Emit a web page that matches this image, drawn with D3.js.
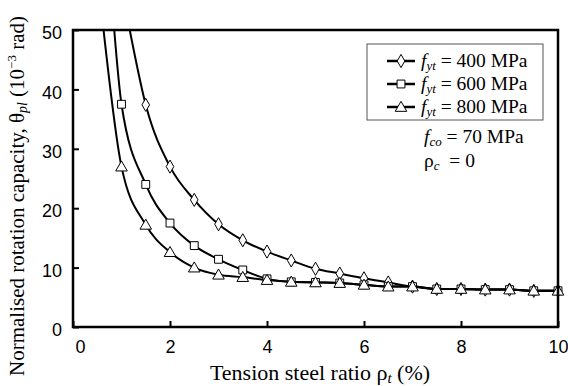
<!DOCTYPE html>
<html>
<head>
<meta charset="utf-8">
<script src="https://cdn.jsdelivr.net/npm/d3@7"></script>
<style>
  html, body { margin: 0; padding: 0; background: #fff; }
  svg { display: block; }
  .serif { font-family: "Liberation Serif", "Times New Roman", serif; }
  .sans { font-family: "Liberation Sans", Arial, sans-serif; }
</style>
</head>
<body>
<svg id="chart" width="568" height="386"></svg>
<script>
// Tension steel ratio (%) at each marker
const ratio = [1.0, 1.5, 2.0, 2.5, 3.0, 3.5, 4.0, 4.5, 5.0, 5.5, 6.0, 6.5, 7.0, 7.5, 8.0, 8.5, 9.0, 9.5, 10.0];

// Normalised rotation capacity (10^-3 rad); null where the value is off the top of the axis
const fyt400 = [null, 37.4, 27.0, 21.4, 17.3, 14.6, 12.7, 11.2, 9.8, 9.0, 8.2, 7.5, 6.8, 6.4, 6.4, 6.3, 6.3, 6.1, 6.1];
const fyt600 = [37.5, 24.0, 17.5, 13.7, 11.4, 9.6, 8.1, 7.6, 7.5, 7.4, 7.1, 6.8, 6.8, 6.4, 6.4, 6.3, 6.3, 6.1, 6.1];
const fyt800 = [27.0, 17.2, 12.6, 10.0, 8.8, 8.4, 7.9, 7.6, 7.5, 7.4, 7.1, 6.8, 6.8, 6.4, 6.4, 6.3, 6.3, 6.1, 6.1];

// Where each curve leaves the top of the plot (ratio at 50 x 10^-3 rad)
const topCrossing = { fyt400: 1.17, fyt600: 0.85, fyt800: 0.63 };

const seriesNames = ["fyt400", "fyt600", "fyt800"];
const seriesLabels = ["400 MPa", "600 MPa", "800 MPa"];
const seriesSymbols = ["diamond", "square", "triangle"];

const xTicks = [0, 2, 4, 6, 8, 10];
const yTicks = [0, 10, 20, 30, 40, 50];

const values = { fyt400, fyt600, fyt800 };

const svg = d3.select("#chart");
const plotL = 73, plotR = 558, plotT = 30, plotB = 327;

const x = d3.scaleLinear().domain([0, 10]).range([plotL, plotR]);
const y = d3.scaleLinear().domain([0, 50]).range([plotB, plotT]);

// Inward ticks
svg.append("g")
  .attr("transform", `translate(0,${plotB})`)
  .call(d3.axisBottom(x).tickValues(xTicks).tickSize(-6).tickPadding(13).tickFormat(d3.format("d")))
  .call(g => g.select(".domain").remove())
  .call(g => g.selectAll("line").attr("stroke", "#000").attr("stroke-width", 2))
  .call(g => g.selectAll("text").attr("class", "sans").attr("font-size", 18).attr("fill", "#000")
    .attr("dx", d => d === 0 ? 7 : 0));

svg.append("g")
  .attr("transform", `translate(${plotL},0)`)
  .call(d3.axisLeft(y).tickValues(yTicks).tickSize(-6).tickPadding(11).tickFormat(d3.format("d")))
  .call(g => g.select(".domain").remove())
  .call(g => g.selectAll("line").attr("stroke", "#000").attr("stroke-width", 2))
  .call(g => g.selectAll("text").attr("class", "sans").attr("font-size", 18).attr("fill", "#000")
    .attr("y", 3));

// Curves
const line = d3.line()
  .x(d => x(d[0]))
  .y(d => y(d[1]))
  .curve(d3.curveMonotoneX);

const symbolTypes = { diamond: d3.symbolDiamond, square: d3.symbolSquare, triangle: d3.symbolTriangle };
const symbolSizes = { diamond: 50, square: 62, triangle: 58 };

seriesNames.forEach(name => {
  const pts = [[topCrossing[name], 50]];
  ratio.forEach((r, i) => { if (values[name][i] !== null) pts.push([r, values[name][i]]); });
  svg.append("path")
    .datum(pts)
    .attr("d", line)
    .attr("fill", "none")
    .attr("stroke", "#000")
    .attr("stroke-width", 2);
});

seriesNames.forEach((name, k) => {
  const sym = seriesSymbols[k];
  const pts = ratio.map((r, i) => [r, values[name][i]]).filter(d => d[1] !== null);
  svg.append("g").selectAll("path")
    .data(pts)
    .join("path")
    .attr("transform", d => `translate(${x(d[0])},${y(d[1]) + (sym === "triangle" ? 1 : 0)})`)
    .attr("d", d3.symbol().type(symbolTypes[sym]).size(symbolSizes[sym]))
    .attr("fill", "#fff")
    .attr("stroke", "#000")
    .attr("stroke-width", 1);
});

// Plot frame
svg.append("rect")
  .attr("x", plotL).attr("y", plotT)
  .attr("width", plotR - plotL).attr("height", plotB - plotT)
  .attr("fill", "none").attr("stroke", "#000").attr("stroke-width", 2.5);

// Legend
const lg = svg.append("g");
lg.append("rect")
  .attr("x", 367).attr("y", 44).attr("width", 176).attr("height", 76)
  .attr("fill", "#fff").attr("stroke", "#555").attr("stroke-width", 1);

seriesNames.forEach((name, k) => {
  const cy = 61 + k * 23;
  const sym = seriesSymbols[k];
  lg.append("line").attr("x1", 387).attr("x2", 415).attr("y1", cy).attr("y2", cy)
    .attr("stroke", "#000").attr("stroke-width", 2.5);
  lg.append("path")
    .attr("transform", `translate(401,${cy + (sym === "triangle" ? 1 : 0)})`)
    .attr("d", d3.symbol().type(symbolTypes[sym]).size(symbolSizes[sym]))
    .attr("fill", "#fff").attr("stroke", "#000").attr("stroke-width", 1);
  const t = lg.append("text").attr("class", "serif").attr("x", 421).attr("y", cy + 6)
    .attr("font-size", 19.5).attr("fill", "#000");
  t.append("tspan").attr("font-style", "italic").text("f");
  t.append("tspan").attr("font-style", "italic").attr("font-size", 13).attr("dy", 3).text("yt");
  t.append("tspan").attr("dy", -3).text(" = " + seriesLabels[k]);
});

// Material note
const n1 = svg.append("text").attr("class", "serif").attr("x", 424).attr("y", 143)
  .attr("font-size", 19.5).attr("fill", "#000");
n1.append("tspan").attr("font-style", "italic").text("f");
n1.append("tspan").attr("font-style", "italic").attr("font-size", 13).attr("dy", 3).text("co");
n1.append("tspan").attr("dy", -3).text(" = 70 MPa");

const n2 = svg.append("text").attr("class", "serif").attr("x", 424).attr("y", 167)
  .attr("font-size", 19.5).attr("fill", "#000");
n2.append("tspan").text("ρ");
n2.append("tspan").attr("font-style", "italic").attr("font-size", 13).attr("dy", 3).text("c");
n2.append("tspan").attr("dy", -3).text("\u00a0\u00a0= 0");

// Axis titles
const xt = svg.append("text").attr("class", "serif").attr("x", 320).attr("y", 380)
  .attr("text-anchor", "middle").attr("font-size", 22).attr("fill", "#000");
xt.append("tspan").text("Tension steel ratio ρ");
xt.append("tspan").attr("font-style", "italic").attr("font-size", 15).attr("dy", 3).text("t");
xt.append("tspan").attr("dy", -3).text(" (%)");

const yt = svg.append("text").attr("class", "serif")
  .attr("transform", "translate(24,196) rotate(-90)")
  .attr("text-anchor", "middle").attr("font-size", 21).attr("fill", "#000");
yt.append("tspan").text("Normalised rotation capacity, θ");
yt.append("tspan").attr("font-style", "italic").attr("font-size", 14).attr("dy", 3).text("pl");
yt.append("tspan").attr("dy", -3).text(" (10");
yt.append("tspan").attr("font-size", 13).attr("dy", -8).text("−3");
yt.append("tspan").attr("dy", 8).text(" rad)");
</script>
</body>
</html>
